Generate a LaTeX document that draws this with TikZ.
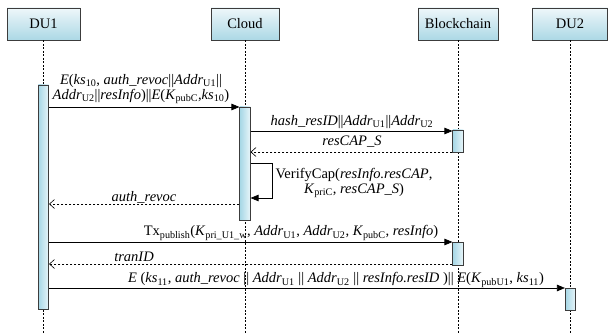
\documentclass[tikz,border=0pt]{standalone}
\usepackage{fontspec}
\setmainfont{Liberation Serif}
\usetikzlibrary{arrows.meta}
\definecolor{boxtop}{RGB}{238,247,250}
\definecolor{boxbot}{RGB}{172,216,229}
\definecolor{actL}{RGB}{166,215,230}
\definecolor{actR}{RGB}{232,245,249}
\definecolor{edgegray}{RGB}{60,60,60}
\newcommand{\sbs}[1]{\textsubscript{\upshape #1}}
\begin{document}
\begin{tikzpicture}[x=1pt,y=-1pt,
  font=\fontsize{14.5}{15}\selectfont,
  head/.style={draw=edgegray, line width=0.6pt, top color=boxtop, bottom color=boxbot, minimum height=32pt, inner sep=0pt},
  actbar/.style={draw=edgegray, line width=0.6pt, left color=actL, right color=actR, inner sep=0pt, minimum width=10.5pt},
  life/.style={dash pattern=on 2pt off 1.5pt, line width=0.5pt},
  msg/.style={line width=0.7pt, -{Triangle[length=8pt,width=6.5pt]}},
  ret/.style={line width=0.6pt, dash pattern=on 2.5pt off 1.5pt, -{Straight Barb[length=5pt,width=9pt]}},
  lbl/.style={inner sep=0pt, align=center}]
\fill[white] (0,0) rectangle (610,334);
\useasboundingbox (0,0) rectangle (610,334);
% headers
\node[head, minimum width=73pt] (du1) at (43.5,24) {DU1};
\node[head, minimum width=68pt] (cloud) at (245,24) {Cloud};
\node[head, minimum width=80pt] (bc) at (458,24) {Blockchain};
\node[head, minimum width=75pt] (du2) at (570,24) {DU2};
% lifelines
\coordinate (e1) at (du1.south |- 0,334);
\coordinate (e2) at (cloud.south |- 0,334);
\coordinate (e3) at (bc.south |- 0,334);
\coordinate (e4) at (du2.south |- 0,334);
\draw[life] (du1.south) -- (e1);
\draw[life] (cloud.south) -- (e2);
\draw[life] (bc.south) -- (e3);
\draw[life] (du2.south) -- (e4);
% activations
\node[actbar, minimum height=224pt] (a1) at (43.5,197) {};
\node[actbar, minimum height=113pt] (a2) at (245,163.5) {};
\node[actbar, minimum height=22pt] (b1) at (458,141) {};
\node[actbar, minimum height=23pt] (b2) at (458,253.5) {};
\node[actbar, minimum height=22pt] (d2) at (570.5,299) {};
% messages
\draw[msg] (a1.east |- 0,107) -- (a2.west |- 0,107);
\node[lbl] (l1) at (141,89) {\textit{E}(\textit{ks}\sbs{10}, \textit{auth\_revoc}||\textit{Addr}\sbs{U1}||\\\textit{Addr}\sbs{U2}||\textit{resInfo})||\textit{E}(\textit{K}\sbs{pubC},\textit{ks}\sbs{10})};
\draw[msg] (a2.east |- 0,131) -- (b1.west |- 0,131);
\node[lbl] (l2) at (352,122) {\textit{hash\_resID}||\textit{Addr}\sbs{U1}||\textit{Addr}\sbs{U2}};
\draw[ret] (b1.west |- 0,152) -- (a2.east |- 0,152);
\node[lbl] (l3) at (352,142) {\textit{resCAP\_S}};
\draw[msg] (a2.east |- 0,163) -- (272,163) -- (272,198) -- (a2.east |- 0,198);
\node[lbl] (l4) at (354,183) {VerifyCap(\textit{resInfo.resCAP},\\\textit{K}\sbs{priC}, \textit{resCAP\_S})};
\draw[ret] (a2.west |- 0,204) -- (a1.east |- 0,204);
\node[lbl] (l5) at (144,197) {\textit{auth\_revoc}};
\draw[msg] (a1.east |- 0,242) -- (b2.west |- 0,242);
\node[lbl] (l6) at (291,233) {Tx\sbs{publish}(\textit{K}\sbs{pri\_U1\_w}, \textit{Addr}\sbs{U1}, \textit{Addr}\sbs{U2}, \textit{K}\sbs{pubC}, \textit{resInfo})};
\draw[ret] (b2.west |- 0,264) -- (a1.east |- 0,264);
\node[lbl] (l7) at (134,257) {\textit{tranID}};
\draw[msg] (a1.east |- 0,288) -- (d2.west |- 0,288);
\node[lbl] (l8) at (336,280) {\textit{E} (\textit{ks}\sbs{11}, \textit{auth\_revoc} || \textit{Addr}\sbs{U1} || \textit{Addr}\sbs{U2} || \textit{resInfo.resID} )|| \textit{E}(\textit{K}\sbs{pubU1}, \textit{ks}\sbs{11})};
\end{tikzpicture}
\end{document}
